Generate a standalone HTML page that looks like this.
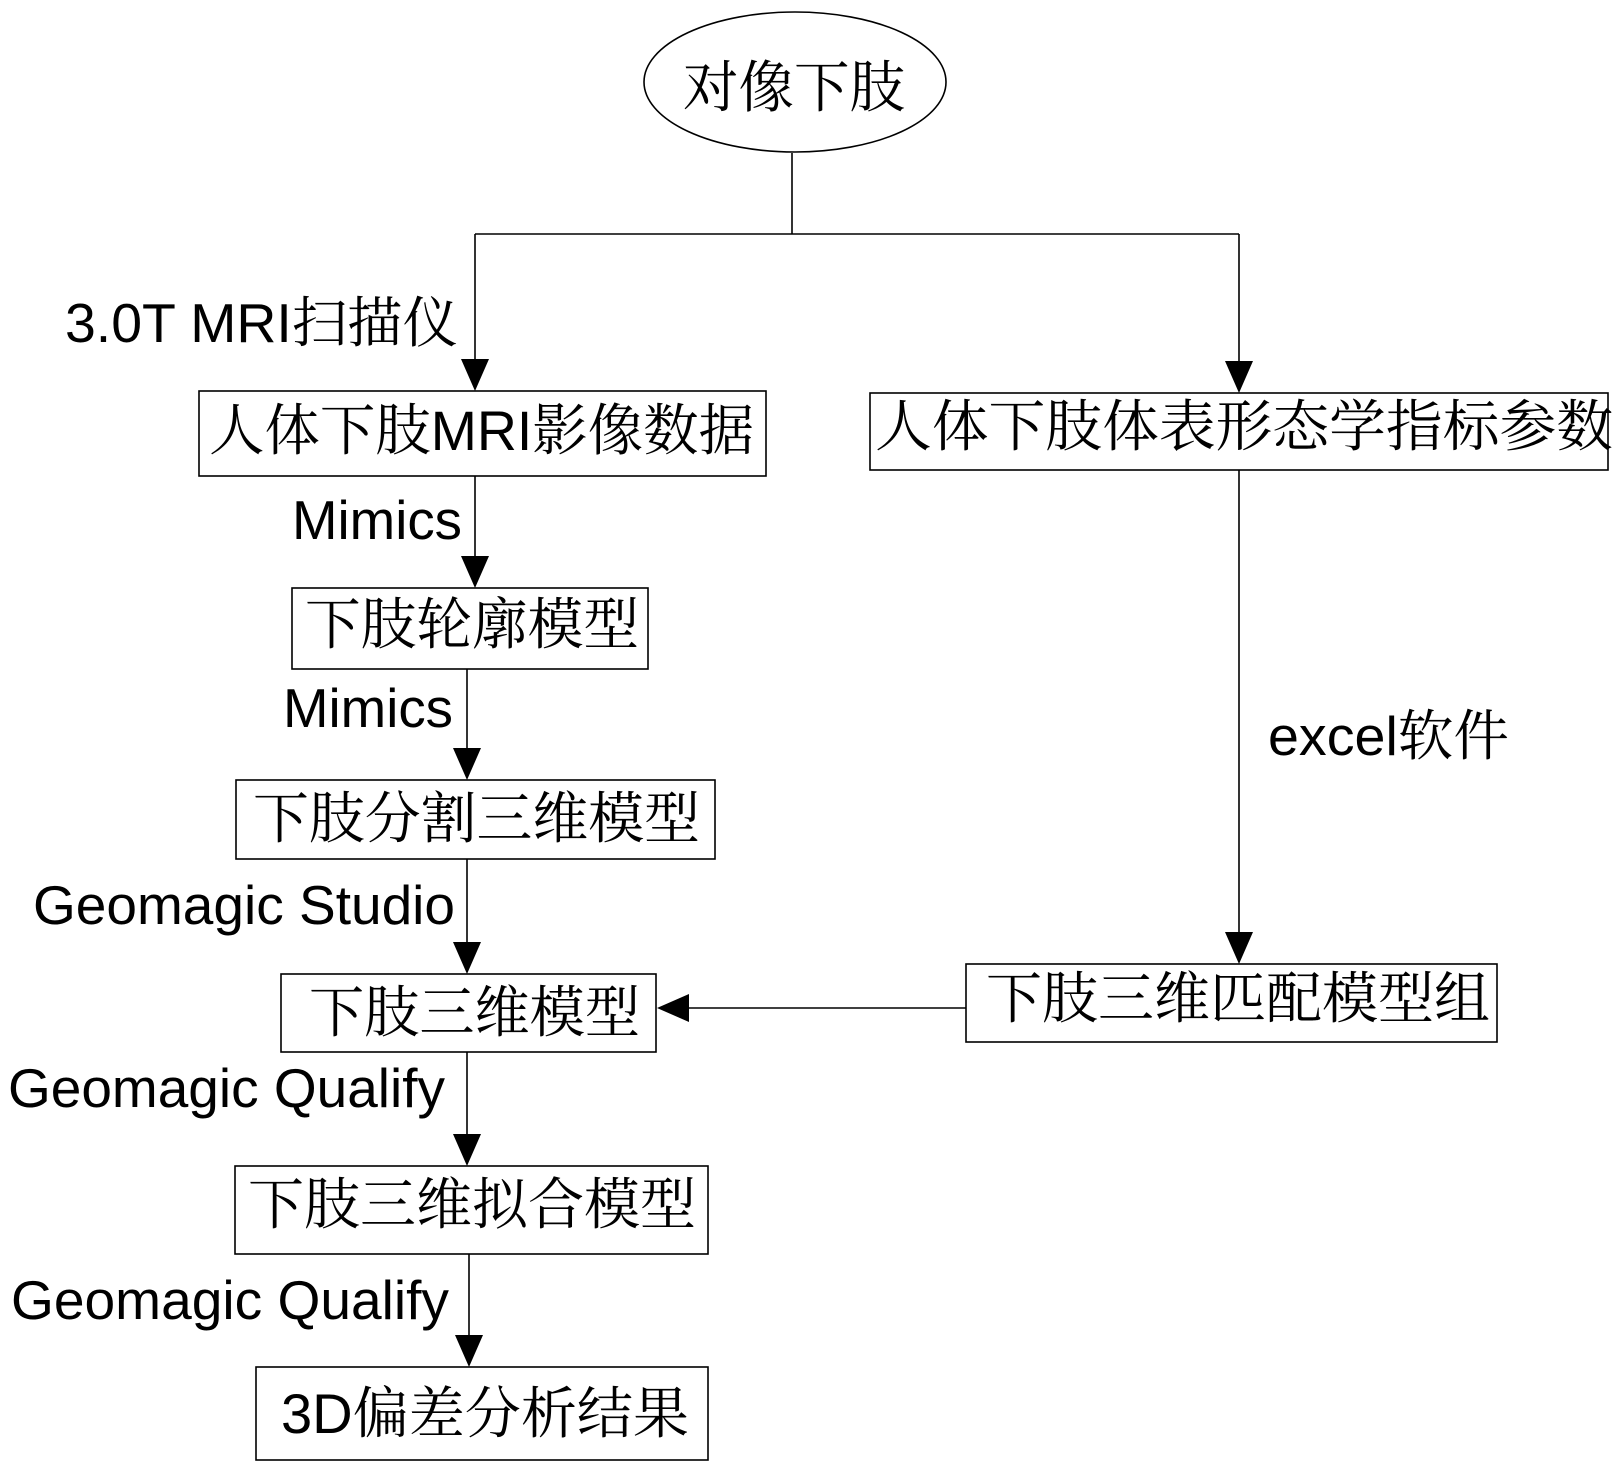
<!DOCTYPE html>
<html>
<head>
<meta charset="utf-8">
<style>
  html,body{margin:0;padding:0;background:#fff;}
  svg{display:block;}
  text{font-family:"Liberation Sans","Noto Serif CJK SC",serif;fill:#000;}
</style>
</head>
<body>
<svg width="1614" height="1471" viewBox="0 0 1614 1471" xmlns="http://www.w3.org/2000/svg">
  <rect x="0" y="0" width="1614" height="1471" fill="#fff"/>
  <g stroke="#000" stroke-width="1.6" fill="none">
    <!-- ellipse -->
    <ellipse cx="795" cy="82" rx="151" ry="70"/>
    <!-- top connectors -->
    <line x1="792" y1="153" x2="792" y2="234"/>
    <line x1="475" y1="234" x2="1239" y2="234"/>
    <line x1="475" y1="234" x2="475" y2="362"/>
    <line x1="1239" y1="234" x2="1239" y2="364"/>
    <!-- boxes -->
    <rect x="199" y="391" width="567" height="85"/>
    <rect x="870" y="393" width="738" height="77"/>
    <rect x="292" y="588" width="356" height="81"/>
    <rect x="236" y="780" width="479" height="79"/>
    <rect x="281" y="974" width="375" height="78"/>
    <rect x="966" y="964" width="531" height="78"/>
    <rect x="235" y="1166" width="473" height="88"/>
    <rect x="256" y="1367" width="452" height="93"/>
    <!-- vertical connectors left -->
    <line x1="475" y1="476" x2="475" y2="560"/>
    <line x1="467" y1="669" x2="467" y2="752"/>
    <line x1="467" y1="859" x2="467" y2="946"/>
    <line x1="467" y1="1052" x2="467" y2="1138"/>
    <line x1="469" y1="1254" x2="469" y2="1339"/>
    <!-- right connector -->
    <line x1="1239" y1="470" x2="1239" y2="936"/>
    <!-- horizontal connector -->
    <line x1="966" y1="1008" x2="686" y2="1008"/>
  </g>
  <g fill="#000" stroke="none">
    <polygon points="461,359 489,359 475,391"/>
    <polygon points="1225,361 1253,361 1239,393"/>
    <polygon points="461,556 489,556 475,588"/>
    <polygon points="453,748 481,748 467,780"/>
    <polygon points="453,942 481,942 467,974"/>
    <polygon points="453,1134 481,1134 467,1166"/>
    <polygon points="455,1335 483,1335 469,1367"/>
    <polygon points="1225,932 1253,932 1239,964"/>
    <polygon points="689,994 689,1022 657,1008"/>
  </g>

  <!-- node texts -->
  <text x="683" y="107" font-size="56" textLength="222" lengthAdjust="spacingAndGlyphs">对像下肢</text>
  <text x="209" y="450" font-size="56" textLength="545" lengthAdjust="spacingAndGlyphs">人体下肢MRI影像数据</text>
  <text x="875" y="446" font-size="56" textLength="738" lengthAdjust="spacingAndGlyphs">人体下肢体表形态学指标参数</text>
  <text x="305" y="644" font-size="56" textLength="334" lengthAdjust="spacingAndGlyphs">下肢轮廓模型</text>
  <text x="253" y="838" font-size="56" textLength="447" lengthAdjust="spacingAndGlyphs">下肢分割三维模型</text>
  <text x="309" y="1032" font-size="56" textLength="331" lengthAdjust="spacingAndGlyphs">下肢三维模型</text>
  <text x="986" y="1018" font-size="56" textLength="504" lengthAdjust="spacingAndGlyphs">下肢三维匹配模型组</text>
  <text x="248" y="1224" font-size="56" textLength="448" lengthAdjust="spacingAndGlyphs">下肢三维拟合模型</text>
  <text x="281" y="1433" font-size="56" textLength="408" lengthAdjust="spacingAndGlyphs">3D偏差分析结果</text>

  <!-- connector labels -->
  <text x="65" y="342" font-size="55" textLength="393" lengthAdjust="spacingAndGlyphs">3.0T MRI扫描仪</text>
  <text x="292" y="539" font-size="55" textLength="170" lengthAdjust="spacingAndGlyphs">Mimics</text>
  <text x="283" y="727" font-size="55" textLength="170" lengthAdjust="spacingAndGlyphs">Mimics</text>
  <text x="33" y="924" font-size="55" textLength="422" lengthAdjust="spacingAndGlyphs">Geomagic Studio</text>
  <text x="8" y="1107" font-size="55" textLength="437" lengthAdjust="spacingAndGlyphs">Geomagic Qualify</text>
  <text x="11" y="1319" font-size="55" textLength="438" lengthAdjust="spacingAndGlyphs">Geomagic Qualify</text>
  <text x="1268" y="755" font-size="55" textLength="241" lengthAdjust="spacingAndGlyphs">excel软件</text>
</svg>
</body>
</html>
